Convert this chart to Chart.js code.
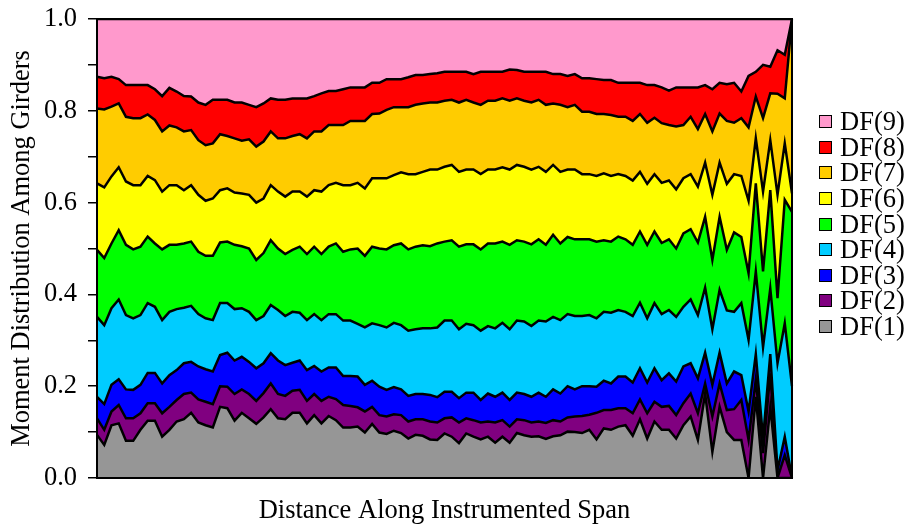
<!DOCTYPE html>
<html>
<head>
<meta charset="utf-8">
<script src="https://cdn.jsdelivr.net/npm/chart.js@4.4.0/dist/chart.umd.min.js"></script>
<style>
    body { margin: 0; background: #fff; }
    #wrap { position: relative; width: 924px; height: 529px; }
    #legend { position: absolute; left: 819px; top: 109px; font: 26.5px 'Liberation Serif', 'Times New Roman', serif; color: #000; }
    .row { height: 25.6px; display: flex; align-items: center; }
    .box { width: 11px; height: 11px; border: 1.5px solid #000; margin-right: 8px; }
</style>
</head>
<body>
<div id="wrap">
    <canvas id="momentChart" width="924" height="529"></canvas>
    <div id="legend"></div>
</div>
<script>
// stations along the span (no labels shown on the axis)
const stations = Array.from({ length: 97 }, (_, i) => i + 1);

const df1 = [0.094,0.072,0.115,0.119,0.081,0.081,0.105,0.125,0.125,0.090,0.105,0.123,0.128,0.142,0.121,0.115,0.110,0.155,0.152,0.125,0.142,0.130,0.118,0.132,0.150,
    0.130,0.128,0.142,0.142,0.119,0.137,0.119,0.135,0.126,0.110,0.110,0.112,0.099,0.118,0.099,0.096,0.103,0.098,0.086,0.094,0.092,0.084,0.083,
    0.097,0.090,0.076,0.097,0.090,0.084,0.090,0.077,0.090,0.077,0.098,0.093,0.090,0.091,0.085,0.091,0.093,0.101,0.100,0.098,0.105,0.084,
    0.108,0.105,0.112,0.115,0.092,0.128,0.086,0.123,0.105,0.105,0.086,0.115,0.134,0.083,0.184,0.057,0.155,0.100,0.083,0.083,0.000,0.177,0.000,0.155,0.000,0.000,0.000];
const df2 = [0.036,0.033,0.030,0.040,0.049,0.049,0.036,0.038,0.038,0.051,0.050,0.047,0.055,0.044,0.050,0.051,0.051,0.045,0.047,0.058,0.051,0.053,0.050,0.053,0.056,
    0.053,0.051,0.048,0.050,0.049,0.046,0.049,0.042,0.046,0.049,0.047,0.042,0.046,0.037,0.038,0.038,0.036,0.039,0.037,0.034,0.036,0.039,0.038,
    0.033,0.042,0.045,0.033,0.036,0.037,0.033,0.044,0.036,0.035,0.030,0.033,0.031,0.032,0.035,0.035,0.030,0.031,0.034,0.037,0.033,0.058,
    0.040,0.043,0.040,0.037,0.049,0.043,0.055,0.043,0.050,0.052,0.051,0.048,0.050,0.058,0.022,0.077,0.051,0.048,0.067,0.087,0.083,0.037,0.054,0.073,0.000,0.050,0.000];
const df3 = [0.047,0.056,0.058,0.056,0.063,0.062,0.062,0.066,0.066,0.065,0.069,0.065,0.067,0.067,0.072,0.071,0.071,0.068,0.074,0.073,0.071,0.070,0.071,0.065,0.066,
    0.073,0.067,0.061,0.064,0.067,0.061,0.064,0.064,0.069,0.063,0.065,0.067,0.058,0.057,0.062,0.058,0.059,0.056,0.056,0.055,0.055,0.058,0.055,
    0.058,0.056,0.053,0.056,0.060,0.049,0.061,0.056,0.060,0.058,0.058,0.057,0.056,0.063,0.057,0.067,0.061,0.068,0.059,0.065,0.062,0.057,
    0.064,0.058,0.069,0.069,0.067,0.068,0.067,0.073,0.058,0.071,0.073,0.080,0.066,0.076,0.067,0.069,0.067,0.058,0.082,0.054,0.062,0.056,0.032,0.042,0.017,0.040,0.000];
const df4 = [0.174,0.172,0.167,0.174,0.162,0.156,0.152,0.152,0.144,0.138,0.138,0.133,0.121,0.122,0.114,0.111,0.112,0.113,0.108,0.112,0.106,0.109,0.105,0.103,0.105,
    0.110,0.107,0.111,0.104,0.109,0.113,0.112,0.116,0.116,0.121,0.121,0.115,0.125,0.125,0.134,0.136,0.140,0.140,0.142,0.141,0.143,0.145,0.152,
    0.155,0.155,0.150,0.150,0.147,0.151,0.147,0.149,0.152,0.154,0.157,0.158,0.154,0.157,0.164,0.158,0.160,0.157,0.160,0.153,0.155,0.149,
    0.150,0.154,0.145,0.141,0.145,0.143,0.140,0.142,0.144,0.138,0.141,0.130,0.139,0.138,0.142,0.121,0.137,0.159,0.130,0.157,0.156,0.180,0.199,0.143,0.233,0.247,0.200];
const df5 = [0.146,0.146,0.141,0.151,0.153,0.150,0.149,0.145,0.138,0.154,0.146,0.140,0.140,0.140,0.136,0.136,0.140,0.132,0.134,0.140,0.135,0.138,0.131,0.137,0.141,
    0.134,0.135,0.135,0.144,0.144,0.147,0.144,0.147,0.154,0.150,0.155,0.164,0.156,0.167,0.167,0.170,0.169,0.178,0.177,0.180,0.181,0.179,0.183,
    0.172,0.175,0.180,0.173,0.176,0.177,0.180,0.185,0.177,0.184,0.175,0.174,0.178,0.177,0.167,0.179,0.167,0.168,0.167,0.167,0.165,0.167,
    0.156,0.155,0.160,0.158,0.155,0.155,0.160,0.156,0.155,0.154,0.149,0.160,0.153,0.158,0.154,0.151,0.159,0.132,0.173,0.144,0.145,0.192,0.165,0.214,0.142,0.269,0.380];
const df6 = [0.145,0.154,0.146,0.137,0.138,0.140,0.134,0.132,0.138,0.126,0.130,0.130,0.116,0.123,0.124,0.120,0.125,0.114,0.116,0.114,0.115,0.117,0.125,0.119,0.120,
    0.124,0.125,0.127,0.120,0.125,0.123,0.136,0.134,0.132,0.145,0.140,0.143,0.147,0.149,0.153,0.155,0.153,0.155,0.164,0.158,0.160,0.167,0.161,
    0.163,0.164,0.163,0.163,0.163,0.164,0.161,0.161,0.162,0.164,0.164,0.163,0.163,0.158,0.159,0.152,0.156,0.147,0.152,0.142,0.142,0.143,
    0.146,0.143,0.136,0.138,0.140,0.130,0.133,0.125,0.131,0.128,0.129,0.120,0.120,0.122,0.118,0.142,0.118,0.144,0.127,0.133,0.158,0.098,0.174,0.109,0.225,0.123,0.040];
const df7 = [0.163,0.170,0.152,0.139,0.141,0.146,0.146,0.134,0.131,0.131,0.130,0.126,0.128,0.120,0.119,0.121,0.120,0.122,0.114,0.118,0.115,0.121,0.122,0.124,0.117,
    0.116,0.127,0.121,0.125,0.127,0.128,0.131,0.131,0.126,0.131,0.140,0.135,0.147,0.140,0.141,0.149,0.148,0.142,0.146,0.151,0.149,0.146,0.146,
    0.144,0.142,0.151,0.152,0.146,0.151,0.150,0.150,0.150,0.150,0.145,0.144,0.146,0.146,0.146,0.134,0.146,0.136,0.141,0.136,0.136,0.135,
    0.129,0.133,0.125,0.129,0.130,0.126,0.133,0.123,0.130,0.121,0.137,0.116,0.125,0.125,0.106,0.138,0.107,0.137,0.112,0.126,0.160,0.091,0.160,0.102,0.220,0.098,0.380];
const df8 = [0.069,0.068,0.065,0.053,0.069,0.072,0.072,0.064,0.067,0.077,0.082,0.078,0.077,0.073,0.082,0.088,0.095,0.075,0.079,0.078,0.083,0.075,0.086,0.083,0.072,
    0.084,0.084,0.082,0.078,0.087,0.077,0.083,0.074,0.074,0.078,0.073,0.073,0.073,0.068,0.067,0.067,0.061,0.061,0.065,0.065,0.062,0.062,0.064,
    0.063,0.061,0.067,0.061,0.062,0.072,0.063,0.063,0.058,0.068,0.062,0.063,0.067,0.061,0.072,0.064,0.067,0.068,0.067,0.073,0.073,0.076,
    0.074,0.076,0.074,0.074,0.083,0.068,0.082,0.071,0.078,0.075,0.085,0.082,0.064,0.091,0.063,0.092,0.067,0.080,0.087,0.058,0.112,0.054,0.116,0.058,0.095,0.095,0.000];
const df9 = [0.126,0.129,0.126,0.131,0.144,0.144,0.144,0.144,0.153,0.168,0.150,0.158,0.168,0.169,0.182,0.187,0.176,0.176,0.176,0.182,0.182,0.187,0.192,0.184,0.173,
    0.176,0.176,0.173,0.173,0.173,0.168,0.162,0.157,0.157,0.153,0.149,0.149,0.149,0.139,0.139,0.131,0.131,0.131,0.127,0.122,0.122,0.120,0.118,
    0.115,0.115,0.115,0.115,0.120,0.115,0.115,0.115,0.115,0.110,0.111,0.115,0.115,0.115,0.115,0.120,0.120,0.124,0.120,0.129,0.129,0.131,
    0.133,0.133,0.139,0.139,0.139,0.139,0.144,0.144,0.149,0.156,0.149,0.149,0.149,0.149,0.144,0.153,0.139,0.142,0.139,0.158,0.124,0.115,0.100,0.104,0.068,0.078,0.000];

const seriesNames = ['DF(1)', 'DF(2)', 'DF(3)', 'DF(4)', 'DF(5)', 'DF(6)', 'DF(7)', 'DF(8)', 'DF(9)'];
const seriesData = [df1, df2, df3, df4, df5, df6, df7, df8, df9];
const seriesColors = ['#969696', '#800080', '#0000ff', '#00ccff', '#00ff00', '#ffff00', '#ffcc00', '#ff0000', '#ff99cc'];
const yTicks = [0.0, 0.2, 0.4, 0.6, 0.8, 1.0];

const serif = "'Liberation Serif', 'Times New Roman', serif";

// frame around the plot area
const framePlugin = {
    id: 'frame',
    afterDraw(chart) {
        const { ctx, chartArea: a } = chart;
        ctx.save();
        ctx.strokeStyle = '#000';
        ctx.lineWidth = 2;
        ctx.strokeRect(a.left, a.top, a.right - a.left, a.bottom - a.top);
        ctx.restore();
    }
};

const canvas = document.getElementById('momentChart');
const ctx = canvas.getContext('2d');

const chart = new Chart(ctx, {
    type: 'line',
    data: {
        labels: stations,
        datasets: seriesData.map((d, i) => ({
            label: seriesNames[i],
            data: d,
            backgroundColor: seriesColors[i],
            borderColor: '#000',
            borderWidth: 2.5,
            pointRadius: 0,
            tension: 0,
            fill: i === 0 ? 'origin' : '-1'
        }))
    },
    options: {
        responsive: false,
        animation: false,
        layout: { padding: { left: 0, right: 132, top: 19, bottom: 0 } },
        plugins: {
            legend: { display: false },
            tooltip: { enabled: false }
        },
        scales: {
            x: {
                type: 'category',
                offset: false,
                grid: { display: false },
                ticks: { display: false },
                border: { display: true, color: '#000', width: 2 },
                title: {
                    display: true,
                    text: 'Distance Along Instrumented Span',
                    color: '#000',
                    font: { family: serif, size: 26.5 },
                    padding: { top: 0, bottom: 2 }
                },
                afterFit(scale) { scale.height = 51; }
            },
            y: {
                stacked: true,
                min: 0,
                max: 1,
                ticks: {
                    stepSize: 0.1,
                    color: '#000',
                    padding: 11,
                    font: { family: serif, size: 26.5 },
                    callback: (v) => {
                        const t = Math.round(v * 10) / 10;
                        return yTicks.some(y => Math.abs(y - t) < 1e-6) ? t.toFixed(1) : '';
                    }
                },
                grid: { drawOnChartArea: false, drawTicks: true, tickLength: 9, color: '#000', lineWidth: 1.5 },
                border: { display: true, color: '#000', width: 2 },
                title: {
                    display: true,
                    text: 'Moment Distribution Among Girders',
                    color: '#000',
                    font: { family: serif, size: 26.5 },
                    padding: { top: 6, bottom: 0 }
                },
                afterFit(scale) {
                    scale.width = 97;
                    scale.paddingTop = 0;
                    scale.paddingBottom = 0;
                }
            }
        }
    },
    plugins: [framePlugin]
});

// legend, top entry is DF(9)
const legend = document.getElementById('legend');
for (let i = seriesNames.length - 1; i >= 0; i--) {
    const row = document.createElement('div');
    row.className = 'row';
    const box = document.createElement('span');
    box.className = 'box';
    box.style.background = seriesColors[i];
    const txt = document.createElement('span');
    txt.textContent = seriesNames[i];
    row.appendChild(box);
    row.appendChild(txt);
    legend.appendChild(row);
}
</script>
</body>
</html>
